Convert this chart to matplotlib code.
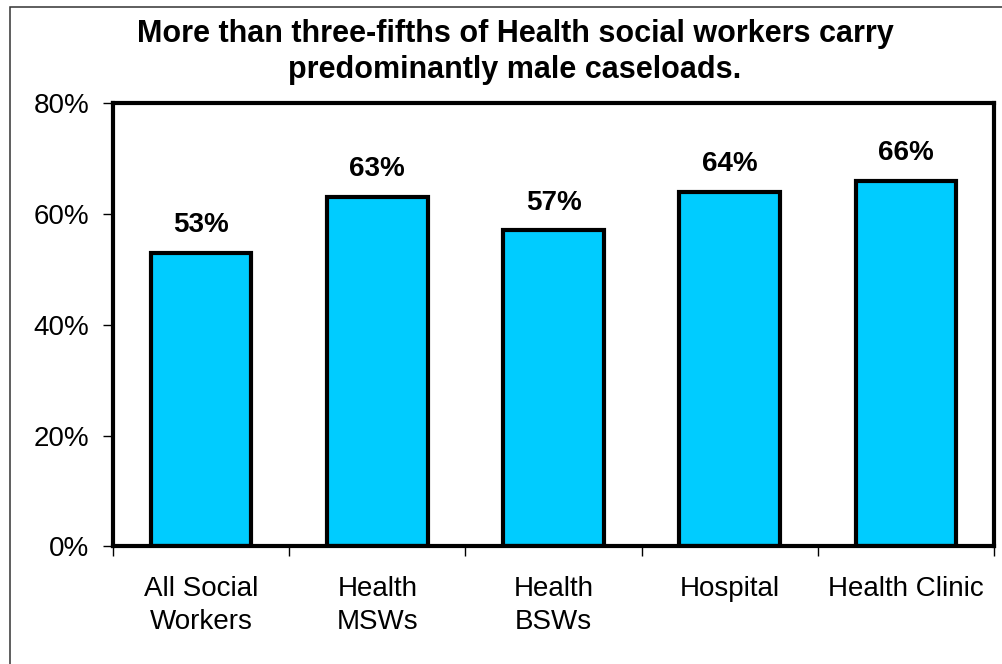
import matplotlib
matplotlib.use("Agg")
import matplotlib.pyplot as plt
from matplotlib.patches import Rectangle
from matplotlib.ticker import FuncFormatter, FixedLocator

# Share of social workers with predominantly male caseloads
categories = ["All Social\nWorkers", "Health\nMSWs", "Health\nBSWs", "Hospital", "Health Clinic"]
shares = [53, 63, 57, 64, 66]
yticks = [0, 20, 40, 60, 80]

TITLE = ("More than three-fifths of Health social workers carry\n"
         "predominantly male caseloads.")

BAR_COLOR = "#00CCFF"

plt.rcParams["font.family"] = ["Liberation Sans", "DejaVu Sans"]

fig = plt.figure(figsize=(10.02, 6.64), dpi=100, facecolor="white")
ax = fig.add_axes([0.1128, 0.177, 0.992 - 0.1128, 0.845 - 0.177])

# thin frame around the whole chart (runs off the right/bottom edge)
fig.patches.append(Rectangle((9.5 / 1002, -0.1), 1.2, 1 - 7.5 / 664 + 0.1,
                             transform=fig.transFigure, fill=False,
                             edgecolor="#333333", linewidth=1.1, zorder=0))

x = list(range(len(categories)))
ax.bar(x, shares, width=0.57, color=BAR_COLOR, edgecolor="black",
       linewidth=3, zorder=2)

for xi, v in zip(x, shares):
    ax.annotate(f"{v}%", (xi, v), xytext=(0, 15), textcoords="offset points",
                ha="center", va="baseline", fontsize=20, fontweight="bold")

ax.set_xlim(-0.5, len(categories) - 0.5)
ax.set_ylim(0, 80)
ax.set_yticks(yticks)
ax.yaxis.set_major_formatter(FuncFormatter(lambda v, _: f"{v:.0f}%"))

# category labels centred, tick marks on the category boundaries
ax.set_xticks(x)
ax.set_xticklabels(categories, fontsize=20, linespacing=1.38)
ax.xaxis.set_minor_locator(FixedLocator([i - 0.5 for i in range(len(categories) + 1)]))
ax.tick_params(axis="x", which="major", length=0, pad=21)
ax.tick_params(axis="x", which="minor", length=7, width=1, direction="out")
ax.tick_params(axis="y", length=7, width=1, direction="out", pad=10, labelsize=20)

for s in ax.spines.values():
    s.set_linewidth(3)
    s.set_color("black")

fig.text(515 / 1002, 1 - 78 / 664, TITLE, ha="center", va="baseline",
         fontsize=22, fontweight="bold", linespacing=1.25)

fig.savefig("out.png", dpi=100, facecolor="white")
